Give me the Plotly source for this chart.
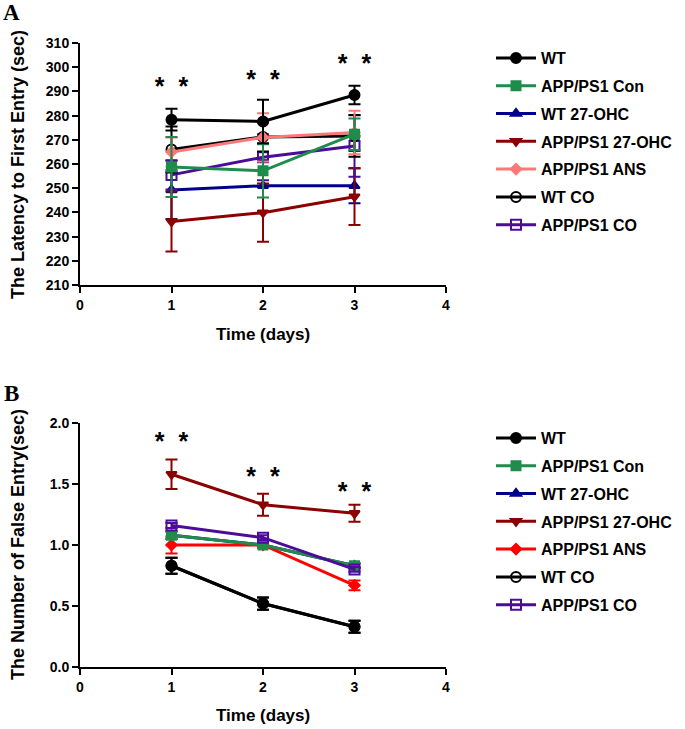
import plotly.graph_objects as go

# ---------- data ----------
days = [1, 2, 3]
groups = ["WT", "APP/PS1 Con", "WT 27-OHC", "APP/PS1 27-OHC", "APP/PS1 ANS", "WT CO", "APP/PS1 CO"]

# panel A: latency to first entry (sec)
wt_a = [278.3, 277.6, 288.5]
wt_a_err = [4.5, 9.0, 3.8]
con_a = [258.8, 257.2, 272.3]
con_a_err = [12.4, 11.0, 6.5]
wt27_a = [249.3, 251.0, 251.0]
wt27_a_err = [12.0, 10.5, 7.2]
app27_a = [236.2, 239.9, 246.5]
app27_a_err = [12.4, 12.0, 11.7]
ans_a = [265.0, 271.0, 273.0]
ans_a_err = [6.0, 10.0, 9.0]
wtco_a = [266.0, 271.2, 271.6]
wtco_a_err = [9.5, 6.0, 8.6]
appco_a = [255.5, 262.8, 267.4]
appco_a_err = [6.0, 9.5, 12.7]
star_a = [291.0, 294.0, 300.5]

# panel B: number of false entry
wt_b = [0.83, 0.52, 0.33]
wt_b_err = [0.065, 0.05, 0.05]
con_b = [1.08, 1.00, 0.83]
con_b_err = [0.03, 0.02, 0.02]
wt27_b = [1.08, 1.00, 0.83]
wt27_b_err = [0.03, 0.02, 0.02]
app27_b = [1.58, 1.33, 1.26]
app27_b_err = [0.12, 0.09, 0.07]
ans_b = [1.00, 1.00, 0.67]
ans_b_err = [0.07, 0.02, 0.04]
wtco_b = [0.83, 0.52, 0.33]
wtco_b_err = [0.065, 0.05, 0.05]
appco_b = [1.16, 1.06, 0.80]
appco_b_err = [0.02, 0.02, 0.02]
star_b = [1.83, 1.54, 1.42]

# ---------- styles ----------
style = {
    "WT": dict(color="#000000", symbol="circle", size=10),
    "APP/PS1 Con": dict(color="#1E8C4A", symbol="square", size=9),
    "WT 27-OHC": dict(color="#00008B", symbol="triangle-up", size=9),
    "APP/PS1 27-OHC": dict(color="#8B0000", symbol="triangle-down", size=9),
    "APP/PS1 ANS": dict(color="#FF7878", symbol="diamond", size=8),
    "WT CO": dict(color="#000000", symbol="circle-open", size=10),
    "APP/PS1 CO": dict(color="#4B0C9A", symbol="square-open", size=10),
}
ans_b_color = "#FF0000"

# body margin is removed in the page (post_script), so figure = window
W, H = 685, 729


def fx(px):
    return px / W


def fy(py):
    return 1 - py / H


fig = go.Figure()


def add_series(name, y, err, xa, ya, legend, color=None):
    s = style[name]
    c = color or s["color"]
    rank = groups.index(name) + 1
    fig.add_trace(go.Scatter(
        x=days, y=y, name=name, mode="lines+markers",
        xaxis=xa, yaxis=ya, legend=legend,
        legendgroup=legend + name, legendrank=rank,
        line=dict(color=c, width=3),
        marker=dict(symbol=s["symbol"], size=s["size"], color=c,
                    line=dict(color=c, width=2)),
        error_y=dict(type="data", array=err, color=c, thickness=2, width=6),
    ))


# panel A (drawing order: back to front)
add_series("WT 27-OHC", wt27_a, wt27_a_err, "x", "y", "legend")
add_series("APP/PS1 27-OHC", app27_a, app27_a_err, "x", "y", "legend")
add_series("APP/PS1 CO", appco_a, appco_a_err, "x", "y", "legend")
add_series("WT CO", wtco_a, wtco_a_err, "x", "y", "legend")
add_series("APP/PS1 ANS", ans_a, ans_a_err, "x", "y", "legend")
add_series("APP/PS1 Con", con_a, con_a_err, "x", "y", "legend")
add_series("WT", wt_a, wt_a_err, "x", "y", "legend")

# panel B
add_series("WT 27-OHC", wt27_b, wt27_b_err, "x2", "y2", "legend2")
add_series("WT CO", wtco_b, wtco_b_err, "x2", "y2", "legend2")
add_series("APP/PS1 27-OHC", app27_b, app27_b_err, "x2", "y2", "legend2")
add_series("APP/PS1 ANS", ans_b, ans_b_err, "x2", "y2", "legend2", color=ans_b_color)
add_series("APP/PS1 Con", con_b, con_b_err, "x2", "y2", "legend2")
add_series("APP/PS1 CO", appco_b, appco_b_err, "x2", "y2", "legend2")
add_series("WT", wt_b, wt_b_err, "x2", "y2", "legend2")

# significance stars
for xa, ya, sy in (("x", "y", star_a), ("x2", "y2", star_b)):
    fig.add_trace(go.Scatter(
        x=days, y=sy, mode="text", text=["*  *"] * 3, showlegend=False,
        xaxis=xa, yaxis=ya, hoverinfo="skip",
        textfont=dict(family="Liberation Sans", size=25, color="black", weight="bold"),
    ))

axis_common = dict(
    showgrid=False, zeroline=False, showline=True, linecolor="black", linewidth=2,
    ticks="outside", ticklen=6, tickwidth=2, tickcolor="black", automargin=False,
    tickfont=dict(family="Liberation Sans, Arial", size=14, color="black", weight="bold"),
)
legend_font = dict(family="Liberation Sans, Arial", size=16, color="black", weight="bold")
xd = [fx(80), fx(446)]

fig.update_layout(
    width=W, height=H,
    margin=dict(l=0, r=0, t=0, b=0),
    paper_bgcolor="white", plot_bgcolor="white",
    font=dict(family="Liberation Sans, Arial", size=14, color="black"),
    xaxis=dict(axis_common, domain=xd, range=[0, 4], dtick=1, anchor="y"),
    yaxis=dict(axis_common, domain=[fy(285), fy(43)], range=[210, 310], dtick=10, anchor="x"),
    xaxis2=dict(axis_common, domain=xd, range=[0, 4], dtick=1, anchor="y2"),
    yaxis2=dict(axis_common, domain=[fy(667), fy(423)], range=[0, 2], dtick=0.5,
                tickformat=".1f", anchor="x2"),
    legend=dict(x=fx(491), y=fy(41), xanchor="left", yanchor="top",
                traceorder="grouped", tracegroupgap=4, itemwidth=40, font=legend_font),
    legend2=dict(x=fx(491), y=fy(421), xanchor="left", yanchor="top",
                 traceorder="grouped", tracegroupgap=4, itemwidth=40, font=legend_font),
)

title_font = dict(family="Liberation Sans, Arial", size=18, color="black", weight="bold")
xtitle_font = dict(family="Liberation Sans, Arial", size=17, color="black", weight="bold")
letter_font = dict(family="Liberation Serif", size=23, color="black", weight="bold")

labels = [
    ("The Latency to First Entry (sec)", 18, 165, -90, title_font),
    ("The Number of False Entry(sec)", 18, 545, -90, title_font),
    ("Time (days)", 263, 334, 0, xtitle_font),
    ("Time (days)", 263, 715, 0, xtitle_font),
    ("A", 11, 13, 0, letter_font),
    ("B", 11, 394, 0, letter_font),
]
for text, px, py, angle, f in labels:
    fig.add_annotation(text=text, x=fx(px), y=fy(py), xref="paper", yref="paper",
                       xanchor="center", yanchor="middle", textangle=angle,
                       showarrow=False, font=f)

fig.write_html("out.html", config={"displayModeBar": False},
               post_script="document.body.style.margin='0px';")
